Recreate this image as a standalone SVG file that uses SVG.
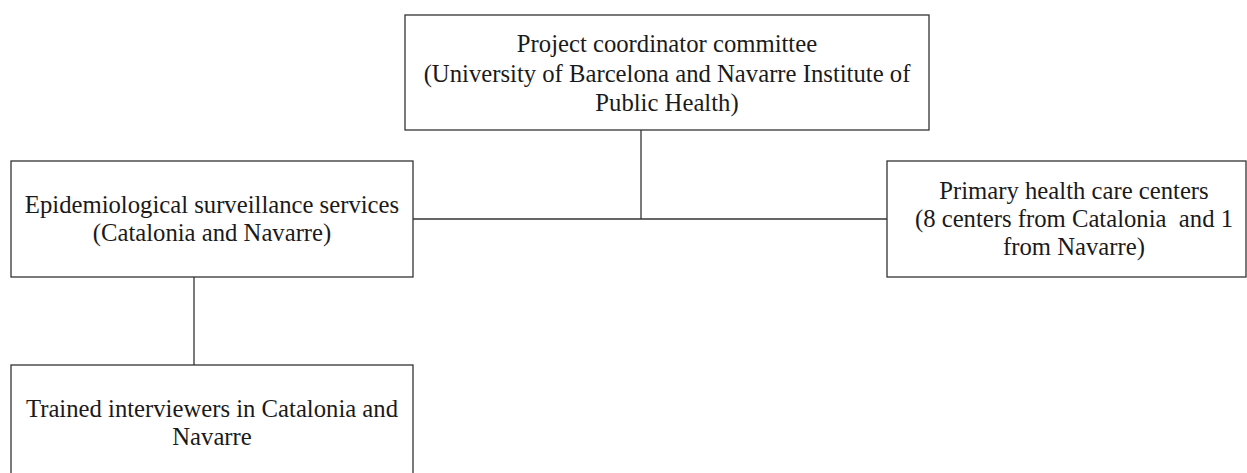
<svg xmlns="http://www.w3.org/2000/svg" width="1247" height="473" viewBox="0 0 1247 473">
<style>
.box{fill:#fff;stroke:#333;stroke-width:1.3}
.lbl{font-family:"Liberation Serif","Times New Roman",serif;font-size:24.7px;fill:#1a1a1a;text-anchor:middle}
.conn{stroke:#333;stroke-width:1.3;fill:none}
</style>
<rect width="1247" height="473" fill="#fff"/>
<g id="connectors">
<line class="conn" x1="641" y1="130" x2="641" y2="219"/>
<line class="conn" x1="413" y1="219" x2="887" y2="219"/>
<line class="conn" x1="194" y1="277" x2="194" y2="365"/>
</g>
<g id="coordinator">
<rect class="box" x="405" y="15" width="524" height="115"/>
<text class="lbl" x="667" y="52">Project coordinator committee</text>
<text class="lbl" x="667" y="81.5">(University of Barcelona and Navarre Institute of</text>
<text class="lbl" x="667" y="111">Public Health)</text>
</g>
<g id="surveillance">
<rect class="box" x="11" y="161" width="402" height="116"/>
<text class="lbl" x="212" y="213">Epidemiological surveillance services</text>
<text class="lbl" x="212" y="241">(Catalonia and Navarre)</text>
</g>
<g id="primary">
<rect class="box" x="887" y="161" width="359" height="116"/>
<text class="lbl" x="1074" y="199">Primary health care centers</text>
<text class="lbl" x="1074" y="227" xml:space="preserve">(8 centers from Catalonia  and 1</text>
<text class="lbl" x="1074" y="255">from Navarre)</text>
</g>
<g id="interviewers">
<rect class="box" x="11" y="365" width="402" height="130"/>
<text class="lbl" x="212" y="417">Trained interviewers in Catalonia and</text>
<text class="lbl" x="212" y="445">Navarre</text>
</g>
</svg>
